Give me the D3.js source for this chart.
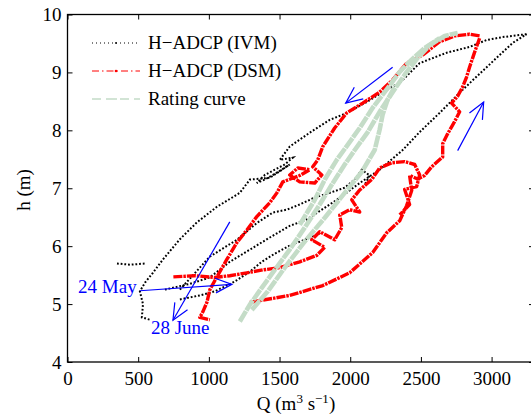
<!DOCTYPE html>
<html><head><meta charset="utf-8">
<script src="https://cdn.jsdelivr.net/npm/d3@7"></script>
<style>
body{margin:0;background:#fff}
text{font-family:"Liberation Serif","Times New Roman",serif;}
</style>
</head><body>
<svg id="c" width="531" height="418"></svg>
<script>
// ---- data (Q in m3/s, h in m) ----
const xTicks = [0, 500, 1000, 1500, 2000, 2500, 3000];
const yTicks = [4, 5, 6, 7, 8, 9, 10];
const legendLabels = ["H\u2212ADCP (IVM)", "H\u2212ADCP (DSM)", "Rating curve"];

// H-ADCP (IVM), black
const ivmUpper = [[3247,9.66],[3078,9.61],[2965,9.56],[2844,9.44],[2682,9.34],[2491,9.16],[2350,8.82],[2258,8.70],[2117,8.49],[1975,8.30],[1855,8.18],[1714,7.96],[1572,7.72],[1502,7.49],[1594,7.53],[1537,7.41],[1466,7.32],[1396,7.23],[1339,7.09],[1396,7.15],[1488,7.28],[1572,7.41],[1431,7.18],[1290,7.15],[1219,6.92],[1057,6.68],[915,6.41],[795,6.12],[675,5.77],[604,5.54],[548,5.37],[512,5.22],[534,5.00],[526,4.77],[583,4.73]];
const ivmRising = [[689,5.25],[866,5.35],[1007,5.46],[1148,5.73],[1290,5.94],[1431,6.15],[1572,6.35],[1692,6.46],[1905,6.80],[2067,7.09],[2208,7.32],[2371,7.66],[2491,7.97],[2632,8.30],[2795,8.70],[2965,9.09],[3149,9.51],[3247,9.66]];
const ivmMiddle = [[795,5.25],[1007,5.82],[1198,6.11],[1339,6.40],[1452,6.58],[1551,6.63],[1643,6.72],[1749,6.84],[1855,6.92],[1961,7.01],[2032,7.15],[2081,7.32],[2138,7.22],[2102,7.06]];
const ivmLower = [[795,5.08],[936,5.15],[1042,5.22],[1184,5.39],[1290,5.56],[1374,5.73],[1466,5.87],[1572,6.01],[1678,6.11],[1784,6.22]];
const ivmFlat = [[350,5.70],[442,5.68],[548,5.70]];

// H-ADCP (DSM), red
const dsmUpper = [[2915,9.63],[2844,9.66],[2738,9.63],[2632,9.53],[2512,9.30],[2399,9.16],[2300,8.87],[2208,8.66],[2088,8.47],[1975,8.30],[1890,8.04],[1806,7.72],[1770,7.49],[1735,7.37],[1799,7.23],[1749,7.09],[1643,7.11],[1572,7.23],[1629,7.35],[1714,7.32],[1643,7.22],[1523,7.11],[1481,6.92],[1431,6.75],[1339,6.51],[1269,6.28],[1198,6.06],[1127,5.77],[1057,5.47],[1007,5.25],[986,5.03],[958,4.87],[936,4.77],[1007,4.73]];
const dsmRight = [[1290,5.03],[1360,5.06],[1572,5.15],[1806,5.32],[1996,5.54],[2159,5.89],[2258,6.23],[2350,6.44],[2399,6.70],[2435,6.96],[2420,7.22],[2477,7.16],[2526,7.22],[2576,7.37],[2654,7.54],[2654,7.77],[2689,7.94],[2738,8.15],[2774,8.32],[2717,8.47],[2760,8.59],[2795,8.75],[2823,8.92],[2844,9.09],[2880,9.35],[2915,9.59]];
const dsmMiddle = [[749,5.47],[901,5.49],[1042,5.46],[1148,5.49],[1269,5.54],[1381,5.59],[1502,5.63],[1643,5.73],[1763,5.84],[1820,5.98],[1728,6.11],[1784,6.25],[1890,6.11],[1940,6.32],[1926,6.54],[1996,6.63],[2067,6.59],[2011,6.80],[2067,6.97],[2152,7.15],[2208,7.35],[2293,7.44],[2385,7.46],[2456,7.41],[2491,7.23],[2470,7.03],[2385,6.98],[2420,6.72],[2350,6.54]];

// Rating curve, light green
const ratingA = [[1219,4.70],[1290,4.99],[1374,5.28],[1466,5.59],[1572,5.94],[1678,6.32],[1784,6.72],[1869,7.06],[1961,7.41],[2032,7.66],[2124,7.97],[2208,8.32],[2300,8.66],[2385,8.96],[2477,9.25],[2562,9.47],[2668,9.63],[2760,9.68]];
const ratingB = [[1304,4.90],[1417,5.22],[1537,5.63],[1678,6.08],[1820,6.49],[1961,6.92],[2081,7.28],[2173,7.66],[2208,8.01],[2229,8.27],[2265,8.53],[2321,8.78]];
const ratingC = [[1643,6.37],[1749,6.80],[1820,7.15],[1905,7.49],[1982,7.75],[2067,8.04],[2159,8.39],[2265,8.73],[2350,9.01],[2435,9.22],[2526,9.42],[2632,9.59]];

// arrows: [fromQ, fromH, toQ, toH]
const arrows = [[2300,9.09,1968,8.47],[2760,7.65,2944,8.49],[512,5.23,1163,5.34],[1148,6.42,746,4.72]];
const notes = [["24 May",75,5.20],["28 June",590,4.48]];

// ---- chart ----
const svg = d3.select("#c");
const x = d3.scaleLinear().domain([0,3300]).range([67.5,534]);
const y = d3.scaleLinear().domain([4,10]).range([362,14.5]);
const fs = 19;

svg.append("defs").append("clipPath").attr("id","clip")
  .append("rect").attr("x",x(0)).attr("y",y(10)).attr("width",x(3300)-x(0)).attr("height",y(4)-y(10));

const line = d3.line().x(d=>x(d[0])).y(d=>y(d[1]));
const g = svg.append("g").attr("clip-path","url(#clip)");

const blackStyle = p => p.attr("fill","none").attr("stroke","#000").attr("stroke-width",2).attr("stroke-dasharray","1.8,1.9");
const redStyle = p => p.attr("fill","none").attr("stroke","#ff0000").attr("stroke-width",3.4).attr("stroke-dasharray","9,1,2.5,1").attr("stroke-linejoin","round");
const greenStyle = p => p.attr("fill","none").attr("stroke","#c4dcc7").attr("stroke-width",4.6).attr("stroke-dasharray","12,0.8").attr("stroke-linejoin","round").attr("stroke-linecap","butt");

[ivmUpper, ivmRising, ivmMiddle, ivmLower, ivmFlat].forEach(s => g.append("path").attr("d",line(s)).call(blackStyle));
[dsmUpper, dsmRight, dsmMiddle].forEach(s => g.append("path").attr("d",line(s)).call(redStyle));
[ratingA, ratingB, ratingC].forEach(s => g.append("path").attr("d",line(s)).call(greenStyle));

// arrows
const ag = svg.append("g").attr("stroke","#0000ff").attr("stroke-width",1.2).attr("fill","none");
arrows.forEach(a => {
  const x1=x(a[0]), y1=y(a[1]), x2=x(a[2]), y2=y(a[3]);
  const ang = Math.atan2(y2-y1, x2-x1), L=18, w=0.42;
  ag.append("line").attr("x1",x1).attr("y1",y1).attr("x2",x2).attr("y2",y2);
  ag.append("path").attr("d", `M${x2-L*Math.cos(ang-w)},${y2-L*Math.sin(ang-w)}L${x2},${y2}L${x2-L*Math.cos(ang+w)},${y2-L*Math.sin(ang+w)}`);
});
notes.forEach(n => svg.append("text").attr("x",x(n[1])).attr("y",y(n[2])).attr("fill","#0000ff").attr("font-size",fs).text(n[0]));

// axes
const axG = svg.append("g");
axG.append("g").attr("transform",`translate(0,${y(4)})`)
  .call(d3.axisBottom(x).tickValues(xTicks).tickSize(-5).tickPadding(9.5).tickFormat(d3.format("d")));
axG.append("g").attr("transform",`translate(0,${y(10)})`)
  .call(d3.axisTop(x).tickValues(xTicks).tickSize(-5).tickFormat(""));
axG.append("g").attr("transform",`translate(${x(0)},0)`)
  .call(d3.axisLeft(y).tickValues(yTicks).tickSize(-5).tickPadding(6).tickFormat(d3.format("d")));
axG.append("g").attr("transform",`translate(${x(3300)},0)`)
  .call(d3.axisRight(y).tickValues(yTicks).tickSize(-5).tickFormat(""));
axG.selectAll(".domain").remove();
axG.selectAll("line").attr("stroke","#000").attr("stroke-width",1);
axG.selectAll("text").attr("font-size",fs).attr("fill","#000").attr("font-family","Liberation Serif");
svg.append("rect").attr("x",x(0)).attr("y",y(10)).attr("width",x(3300)-x(0)).attr("height",y(4)-y(10))
  .attr("fill","none").attr("stroke","#000").attr("stroke-width",1.3);

// axis labels
svg.append("text").attr("transform",`translate(30,190) rotate(-90)`).attr("text-anchor","middle")
  .attr("font-size",fs).text("h (m)");
const ql = svg.append("text").attr("x",296).attr("y",410).attr("text-anchor","middle").attr("font-size",fs);
ql.append("tspan").text("Q (m");
ql.append("tspan").attr("font-size",13).attr("dy",-7).text("3");
ql.append("tspan").attr("dy",7).text(" s");
ql.append("tspan").attr("font-size",13).attr("dy",-7).text("\u22121");
ql.append("tspan").attr("dy",7).text(")");

// legend
const lg = svg.append("g");
const ly = [43, 71, 99];
lg.append("line").attr("x1",92).attr("x2",140).attr("y1",ly[0]).attr("y2",ly[0]).attr("stroke","#000").attr("stroke-width",1).attr("stroke-dasharray","1,3");
lg.append("circle").attr("cx",116).attr("cy",ly[0]).attr("r",0.9).attr("fill","#000");
lg.append("line").attr("x1",92).attr("x2",140).attr("y1",ly[1]).attr("y2",ly[1]).attr("stroke","#ff0000").attr("stroke-width",1).attr("stroke-dasharray","7,3,1.5,3");
lg.append("circle").attr("cx",116).attr("cy",ly[1]).attr("r",1.3).attr("fill","#ff0000");
lg.append("line").attr("x1",92).attr("x2",140).attr("y1",ly[2]).attr("y2",ly[2]).attr("stroke","#c4dcc7").attr("stroke-width",1.3).attr("stroke-dasharray","9,5");
lg.append("circle").attr("cx",116).attr("cy",ly[2]).attr("r",1).attr("fill","#c4dcc7");
legendLabels.forEach((t,i) => lg.append("text").attr("x",148).attr("y",ly[i]).attr("dy","0.33em").attr("font-size",fs).text(t));
</script>
</body></html>
